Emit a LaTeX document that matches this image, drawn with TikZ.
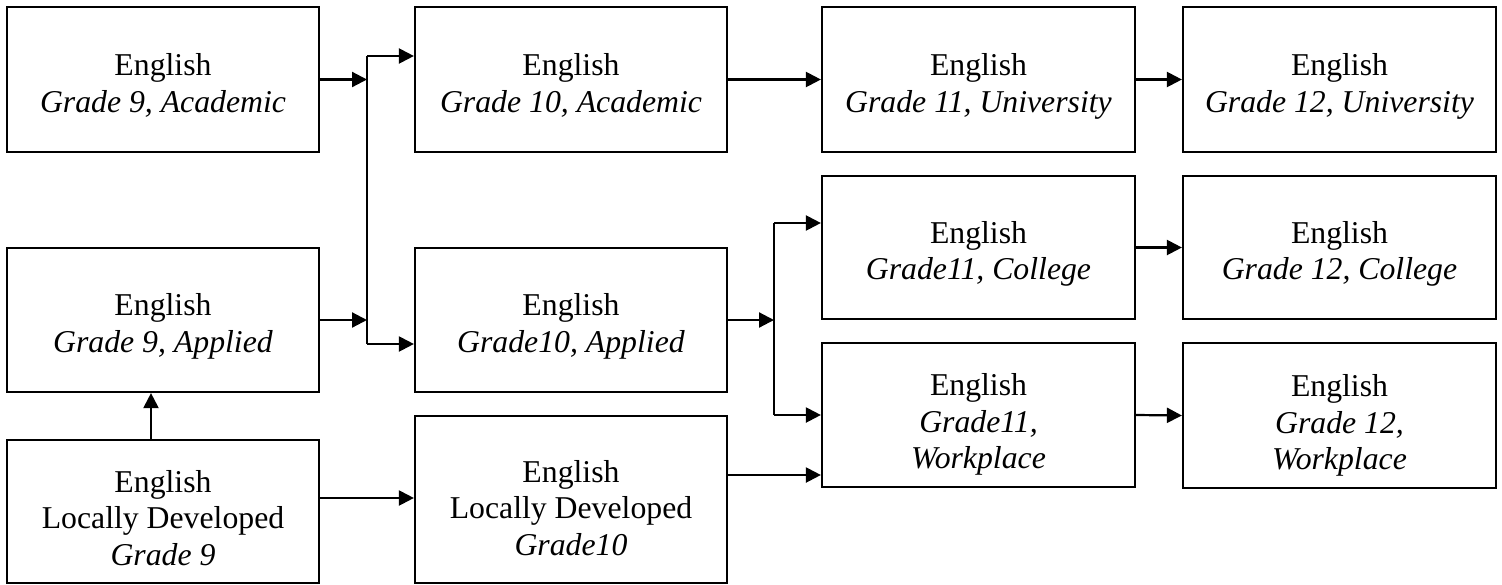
\documentclass[tikz,border=0pt]{standalone}
\usepackage{fontspec}
\setmainfont{Liberation Serif}
\usetikzlibrary{arrows.meta}
\tikzset{
  box/.style={draw=black, line width=2.2pt, minimum width=312pt, inner sep=0pt, fill=white},
  txt/.style={anchor=north, inner sep=0pt, align=center, font=\fontsize{31.75}{36.7}\selectfont},
  conn/.style={line width=2.2pt},
  arr/.style={line width=2.2pt, -{Triangle[length=15pt,width=15pt]}},
}
\begin{document}
\begin{tikzpicture}[x=1pt,y=-1pt]
\useasboundingbox (0,0) rectangle (1502,584);
% boxes
\node[box, minimum height=145pt] (b1) at (163,79.5) {};
\node[box, minimum height=145pt] (b2) at (571,79.5) {};
\node[box, minimum height=145pt, minimum width=313pt] (b3) at (978.5,79.5) {};
\node[box, minimum height=145pt, minimum width=313pt] (b4) at (1339.5,79.5) {};
\node[box, minimum height=144pt] (b5) at (163,320) {};
\node[box, minimum height=144pt] (b6) at (571,320) {};
\node[box, minimum height=143pt, minimum width=313pt] (b7) at (978.5,247.5) {};
\node[box, minimum height=143pt, minimum width=313pt] (b8) at (1339.5,247.5) {};
\node[box, minimum height=144pt, minimum width=313pt] (b9) at (978.5,415) {};
\node[box, minimum height=145pt, minimum width=313pt] (b10) at (1339.5,415.5) {};
\node[box, minimum height=143pt] (b11) at (163,511.5) {};
\node[box, minimum height=167pt] (b12) at (571,499.5) {};
% texts
\node[txt] (t1) at (163,53.3) {English\\\textit{Grade 9, Academic}};
\node[txt] (t2) at (571,53.3) {English\\\textit{Grade 10, Academic}};
\node[txt] (t3) at (978.5,53.3) {English\\\textit{Grade 11, University}};
\node[txt] (t4) at (1339.5,53.3) {English\\\textit{Grade 12, University}};
\node[txt] (t5) at (163,293.3) {English\\\textit{Grade 9, Applied}};
\node[txt] (t6) at (571,293.3) {English\\\textit{Grade10, Applied}};
\node[txt] (t7) at (978.5,221) {English\\\textit{Grade11, College}};
\node[txt] (t8) at (1339.5,221) {English\\\textit{Grade 12, College}};
\node[txt] (t9) at (978.5,373.3) {English\\\textit{Grade11,}\\\textit{Workplace}};
\node[txt] (t10) at (1339.5,374.3) {English\\\textit{Grade 12,}\\\textit{Workplace}};
\node[txt] (t11) at (163,470) {English\\Locally Developed\\\textit{Grade 9}};
\node[txt] (t12) at (571,460) {English\\Locally Developed\\\textit{Grade10}};
% junction coordinates
\coordinate (ja) at (367,80);
\coordinate (jtop) at (367,56);
\coordinate (jbot) at (367,344);
\coordinate (ka) at (774,320);
\coordinate (ktop) at (774,223);
\coordinate (kbot) at (774,415);
% connectors
\draw[arr] (b1.east) -- (b1.east -| ja);
\draw[arr] (b5.east) -- (b5.east -| ja);
\draw[conn] (jbot) -- (jtop);
\draw[arr] (jtop) -- (jtop -| b2.west);
\draw[arr] (jbot) -- (jbot -| b6.west);
\draw[arr] (b2.east) -- (b3.west);
\draw[arr] (b3.east) -- (b4.west);
\draw[arr] (b6.east) -- (b6.east -| ka);
\draw[conn] (kbot) -- (ktop);
\draw[arr] (ktop) -- (ktop -| b7.west);
\draw[arr] (kbot) -- (kbot -| b9.west);
\draw[arr] (b7.east) -- (b8.west);
\draw[arr] (b9.east) -- (b10.west);
\draw[arr] ([xshift=-12pt]b11.north) -- ([xshift=-12pt]b11.north |- b5.south);
\draw[arr] ([yshift=13.5pt]b11.east) -- ([yshift=13.5pt]b11.east -| b12.west);
\draw[arr] ([yshift=24.5pt]b12.east) -- ([yshift=24.5pt]b12.east -| b9.west);
\end{tikzpicture}
\end{document}
